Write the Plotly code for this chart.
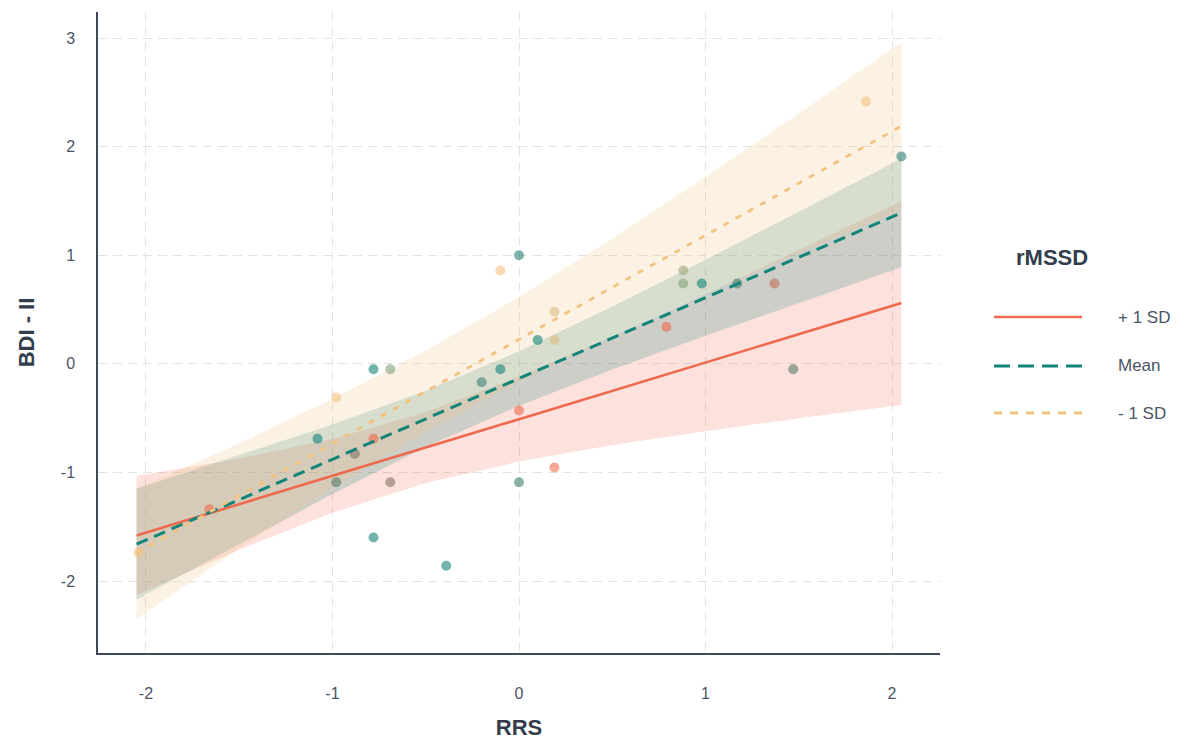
import plotly.graph_objects as go

# ---------------- data ----------------
rrs = [-2.04, -1.66, -1.08, -0.98, -0.98, -0.88, -0.78, -0.78, -0.78, -0.69, -0.69,
       -0.39, -0.20, -0.10, -0.10, 0.00, 0.00, 0.00, 0.10, 0.19, 0.19, 0.19,
       0.79, 0.88, 0.88, 0.98, 1.17, 1.37, 1.47, 1.86, 2.05]
bdi = [-1.74, -1.34, -0.69, -0.31, -1.09, -0.83, -0.05, -0.69, -1.60, -0.05, -1.09,
       -1.86, -0.17, 0.86, -0.05, 1.00, -0.43, -1.09, 0.22, 0.22, 0.48, -0.955,
       0.34, 0.86, 0.74, 0.74, 0.74, 0.74, -0.05, 2.415, 1.91]
rmssd = [-1.0, 1.0, 0.0, -1.0, 0.3, 0.5, 0.0, 1.0, 0.0, -0.5, 0.5,
         0.0, 0.2, -1.0, 0.0, 0.1, 1.0, 0.2, 0.0, -0.9, -0.9, 1.0,
         1.0, -0.6, -0.5, 0.0, 0.2, 0.8, 0.3, -1.0, 0.1]

grid_x = [-2.05, -1.5, -1.0, -0.5, 0.0, 0.5, 1.0, 1.5, 2.05]

fit_plus = [-1.580, -1.293, -1.032, -0.771, -0.510, -0.249, 0.012, 0.273, 0.560]
hi_plus = [-1.030, -0.874, -0.693, -0.444, -0.120, 0.250, 0.644, 1.048, 1.500]
lo_plus = [-2.130, -1.712, -1.371, -1.098, -0.900, -0.748, -0.620, -0.502, -0.380]

fit_mean = [-1.660, -1.251, -0.879, -0.507, -0.135, 0.237, 0.609, 0.981, 1.390]
hi_mean = [-1.150, -0.841, -0.559, -0.247, 0.115, 0.527, 0.959, 1.401, 1.890]
lo_mean = [-2.170, -1.661, -1.199, -0.767, -0.385, -0.053, 0.259, 0.561, 0.890]

fit_minus = [-1.740, -1.213, -0.734, -0.254, 0.225, 0.704, 1.184, 1.663, 2.190]
hi_minus = [-1.150, -0.733, -0.324, 0.122, 0.615, 1.152, 1.721, 2.305, 2.960]
lo_minus = [-2.350, -1.700, -1.144, -0.630, -0.165, 0.256, 0.647, 1.021, 1.420]

labels = ["+ 1 SD", "Mean", "- 1 SD"]
x_ticks = [-2, -1, 0, 1, 2]
y_ticks = [-2, -1, 0, 1, 2, 3]

# ---------------- style ----------------
RED = "#EE6A4F"
TEAL = "#138478"
ORANGE = "#F2C280"
FILLS = ["rgba(238,106,79,0.2)", "rgba(19,132,120,0.2)", "rgba(242,194,128,0.22)"]
COLORS = [RED, TEAL, ORANGE]
DASHES = ["solid", "12px,7px", "6px,8px"]
WIDTHS = [2.6, 3.0, 2.8]
AXIS_COL = "#3E4A5B"
TEXT_COL = "#4A5466"
TITLE_COL = "#333D4C"
FONT = "Liberation Sans, Arial, sans-serif"

fig = go.Figure()

bands = [(hi_plus, lo_plus), (hi_mean, lo_mean), (hi_minus, lo_minus)]
for (hi, lo), fc in zip(bands, FILLS):
    fig.add_trace(go.Scatter(
        x=grid_x + grid_x[::-1], y=hi + lo[::-1],
        fill="toself", fillcolor=fc, line=dict(width=0), mode="lines",
        hoverinfo="skip", showlegend=False))

fig.add_trace(go.Scatter(
    x=rrs, y=bdi, mode="markers",
    marker=dict(size=10, color=rmssd, cmin=-1, cmax=1,
                colorscale=[[0, ORANGE], [0.5, TEAL], [1, RED]],
                opacity=0.6, line=dict(width=0)),
    showlegend=False))

fits = [fit_plus, fit_mean, fit_minus]
for f, c, d, w in zip(fits, COLORS, DASHES, WIDTHS):
    fig.add_trace(go.Scatter(x=grid_x, y=f, mode="lines",
                             line=dict(color=c, width=w, dash=d),
                             showlegend=False))

# manual legend
L, R, T, B = 98, 251, 12, 87
W, H = 1191 - L - R, 740 - T - B


def px(xp):
    return (xp - L) / W


def py(yp):
    return (740 - B - yp) / H


fig.add_annotation(x=px(1090), y=py(257), xref="paper", yref="paper",
                   text="<b>rMSSD</b>", showarrow=False,
                   font=dict(size=22, color=TITLE_COL, family=FONT))
for i, (lab, c, d, w) in enumerate(zip(labels, COLORS, DASHES, WIDTHS)):
    yy = [317, 366, 413][i]
    fig.add_shape(type="line", xref="paper", yref="paper",
                  x0=px(994), x1=px(1082), y0=py(yy), y1=py(yy),
                  line=dict(color=c, width=w, dash=["solid", "16px,8px", "8px,8px"][i]))
    fig.add_annotation(x=px(1116), y=py(yy), xref="paper", yref="paper",
                       text=lab, showarrow=False, xanchor="left",
                       font=dict(size=17, color=TEXT_COL, family=FONT))

grid = dict(showgrid=True, gridcolor="#E3E3E3", gridwidth=1.2, griddash="9px,6px",
            zeroline=False, showline=True, linecolor=AXIS_COL, linewidth=1.5,
            ticks="outside", tickcolor="rgba(0,0,0,0)", automargin=False,
            tickfont=dict(size=16, color=TEXT_COL, family=FONT))

fig.update_layout(
    width=1191, height=740,
    margin=dict(l=L, r=R, t=T, b=B),
    plot_bgcolor="white", paper_bgcolor="white",
    font=dict(family=FONT),
    xaxis=dict(range=[-2.257, 2.257], tickvals=x_ticks, ticktext=[str(v) for v in x_ticks],
               ticklen=25, title=dict(text="<b>RRS</b>", standoff=20,
                                      font=dict(size=22, color=TITLE_COL)), **grid),
    yaxis=dict(range=[-2.663, 3.24], tickvals=y_ticks, ticktext=[str(v) for v in y_ticks],
               ticklen=18, title=dict(text="<b>BDI - II</b>", standoff=20,
                                      font=dict(size=22, color=TITLE_COL)), **grid),
)

fig.write_html("out.html")
